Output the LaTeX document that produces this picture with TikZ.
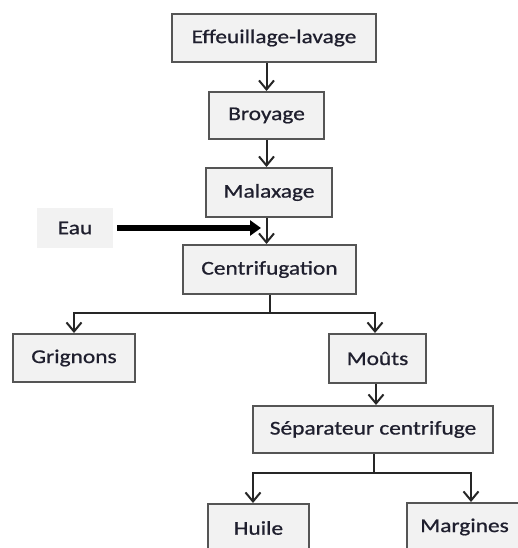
\documentclass[tikz,border=0pt]{standalone}
\usepackage{fontspec}
\setmainfont{Carlito}[FakeStretch=1.2,FakeBold=0.8]
\usetikzlibrary{arrows.meta}
\definecolor{boxfill}{HTML}{F2F2F2}
\definecolor{boxline}{HTML}{555555}
\definecolor{wire}{HTML}{262626}
\definecolor{txt}{HTML}{1F1F2E}
\tikzset{
  x=1pt, y=-1pt,
  stage/.style={draw=boxline, line width=2pt, fill=boxfill, inner sep=0pt,
    text=txt, font=\fontsize{19.5}{22}\selectfont},
  feed/.style={fill=boxfill, inner sep=0pt, text=txt, font=\fontsize{19.5}{22}\selectfont},
  flow/.style={draw=wire, line width=2pt, -{Straight Barb[length=9pt,width=15pt]}},
  link/.style={draw=wire, line width=2pt},
  inlet/.style={draw=black, line width=5.5pt, -{Triangle[length=11pt,width=15pt]}}
}
\begin{document}
\begin{tikzpicture}
\useasboundingbox (0,0) rectangle (518,548);

% process stages
\node[stage, minimum width=204pt, minimum height=48pt] (eff) at (274,38) {Effeuillage-lavage};
\node[stage, minimum width=115pt, minimum height=47pt] (broy) at (266.5,115.5) {Broyage};
\node[stage, minimum width=126pt, minimum height=49pt] (mal) at (269,192.5) {Malaxage};
\node[feed, minimum width=76pt, minimum height=40pt] (eau) at (75,228) {Eau\hspace{8pt}};
\node[stage, minimum width=173pt, minimum height=49pt] (cen) at (269.5,269.5) {Centrifugation};
\node[stage, minimum width=122pt, minimum height=48pt] (gri) at (74,358) {Grignons};
\node[stage, minimum width=97pt, minimum height=49pt] (mou) at (377.5,358.5) {Moûts};
\node[stage, minimum width=240pt, minimum height=47pt] (sep) at (373,429.5) {Séparateur centrifuge};
\node[stage, minimum width=101pt, minimum height=48pt] (hui) at (258.5,528) {Huile};
\node[stage, minimum width=115pt, minimum height=48pt] (mar) at (464.5,527) {Margines};

% main line
\draw[flow] (eff.south -| broy.north) -- (broy.north);
\draw[flow] (broy.south) -- (broy.south |- mal.north);
\draw[flow] (mal.south -| broy.south) -- (cen.north -| broy.south);

% water inlet
\coordinate (inlet) at (261,228);
\draw[inlet] ([xshift=4pt]eau.east) -- (inlet);

% first split
\coordinate (cfork) at (269.5,313);
\draw[link] (cen.south) -- (cfork);
\draw[flow] (cfork) -| (gri.north);
\draw[flow] (cfork) -| ([xshift=-2.5pt]mou.north);

\draw[flow] ([xshift=-1.5pt]mou.south) -- ([xshift=-1.5pt]mou.south |- sep.north);

% second split
\coordinate (sfork) at (374,473);
\draw[link] (sep.south -| sfork) -- (sfork);
\draw[flow] (sfork) -| ([xshift=-5.5pt]hui.north);
\draw[flow] (sfork) -| ([xshift=6.5pt]mar.north);
\end{tikzpicture}
\end{document}
